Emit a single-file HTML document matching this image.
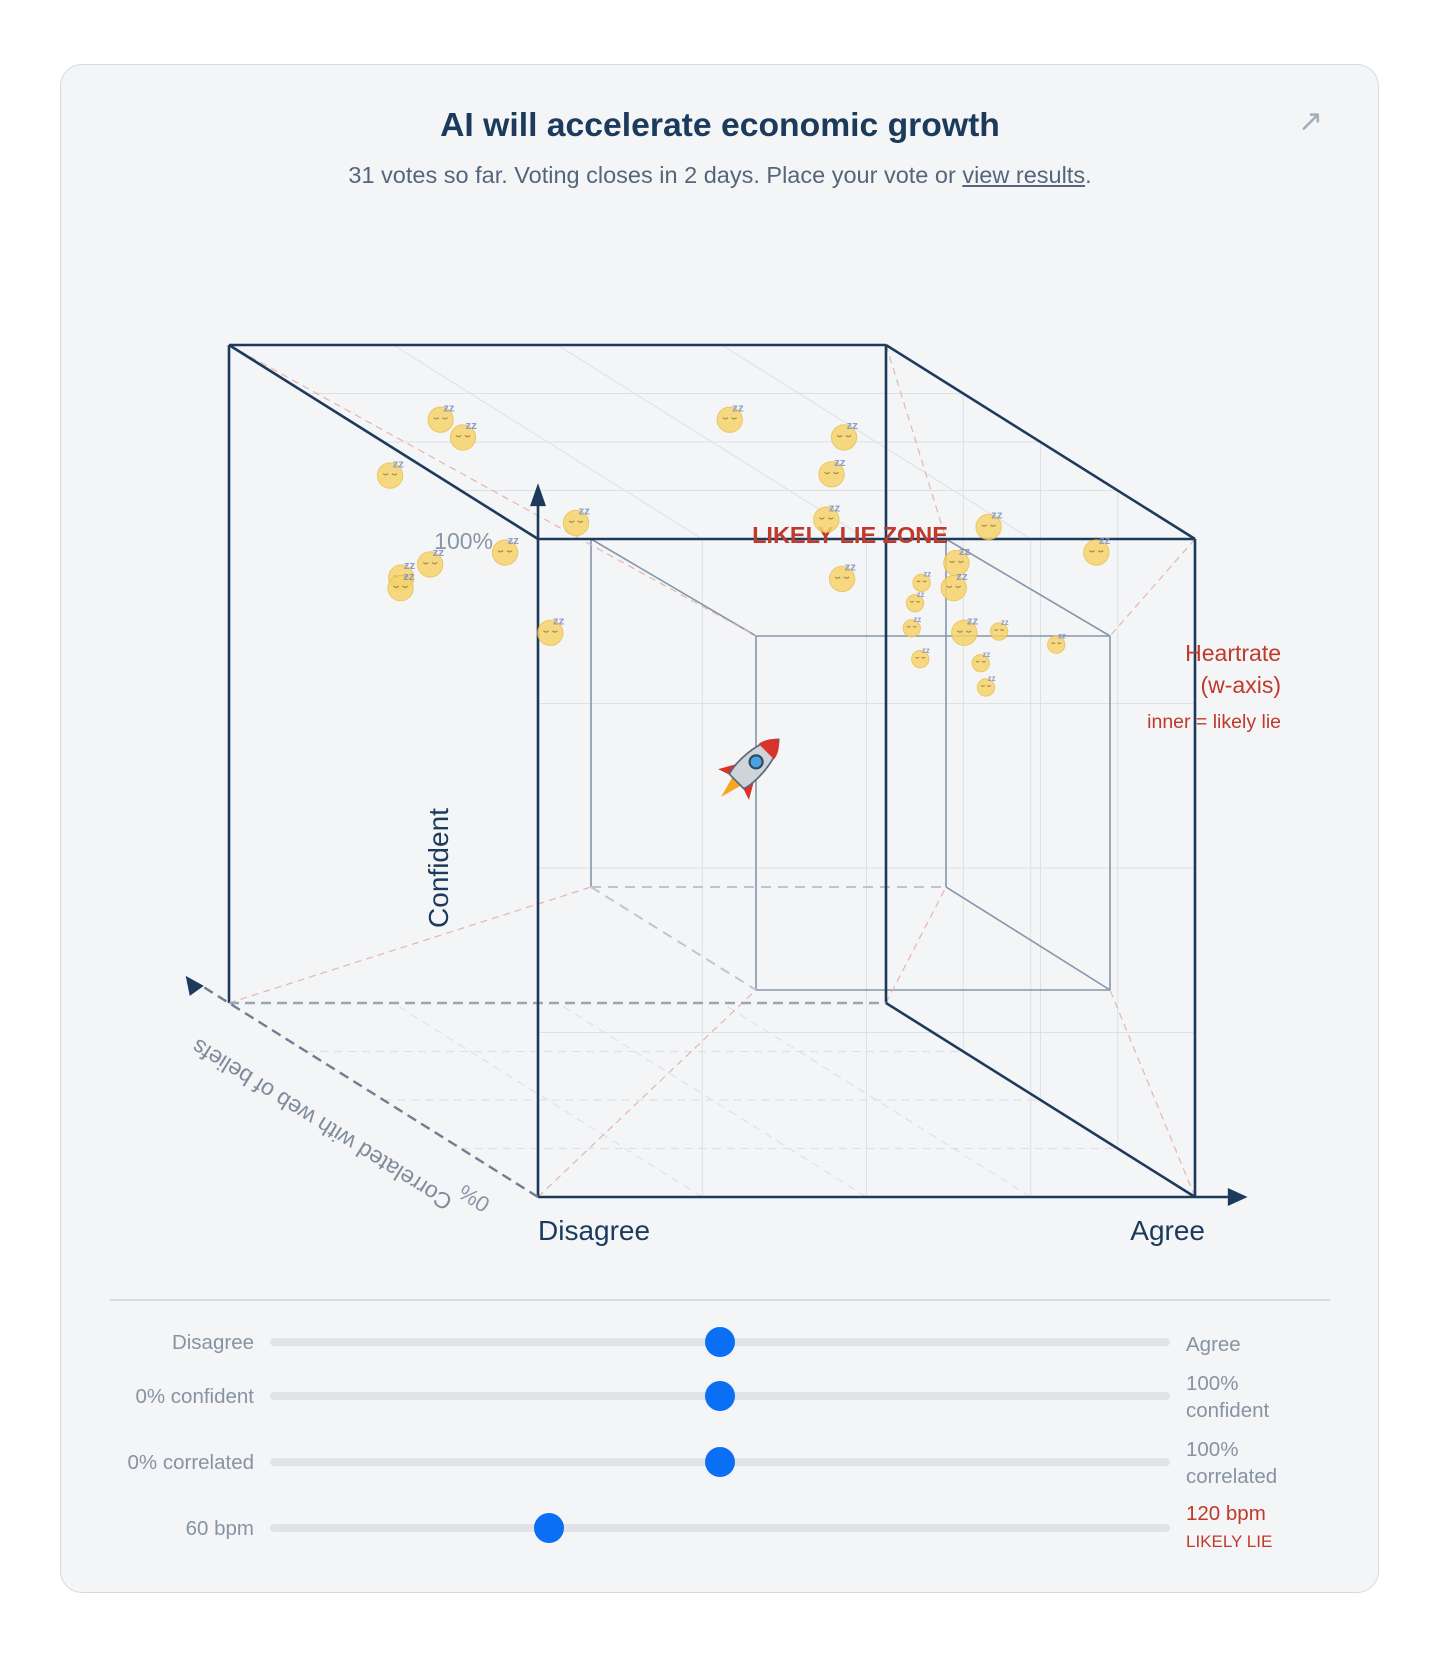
<!DOCTYPE html>
<html><head><meta charset="utf-8"><style>
body{margin:0;width:1440px;height:1657px;background:#fff;font-family:"Liberation Sans",sans-serif;position:relative;overflow:hidden}
.card{position:absolute;left:60px;top:64px;width:1317px;height:1527px;background:#f3f5f7;border:1.5px solid #d5dae1;border-radius:22px}
.t{position:absolute;white-space:nowrap}
</style></head><body>
<div class="card"></div>
<div class="t" style="left:0;width:1440px;text-align:center;top:106px;font-size:33.7px;font-weight:bold;color:#1b3a5c">AI will accelerate economic growth</div>
<div class="t" style="left:0;width:1440px;text-align:center;top:162px;font-size:23.5px;color:#56667a">31 votes so far. Voting closes in 2 days. Place your vote or <span style="text-decoration:underline">view results</span>.</div>
<div class="t" style="left:1298px;top:104px;font-size:30px;color:#a3adba">↗</div>

<svg id="chart" width="1440" height="1657" style="position:absolute;left:0;top:0" xmlns="http://www.w3.org/2000/svg"></svg>

<div class="t" style="left:538px;top:1215px;font-size:28px;color:#1b3a5c">Disagree</div>
<div class="t" style="right:235px;top:1215px;font-size:28px;color:#1b3a5c">Agree</div>
<div class="t" style="right:159px;top:637px;font-size:23px;color:#c0392b;text-align:right;line-height:32px">Heartrate<br>(w-axis)</div>
<div class="t" style="right:159px;top:711px;font-size:19.5px;color:#c0392b">inner = likely lie</div>

<div style="position:absolute;left:110px;top:1299px;width:1220px;height:2px;background:#d8dce2"></div>
<div id="sliders"></div>

<script>
// data
const agree=[0.087,0.121,0.010,0.293,0.527,0.701,0.682,0.674,0.921,1.085,0.872,0.868,0.819,0.809,0.698,0.185,0.071,0.027,0.026,0.254,0.804,0.884,0.937,1.024,0.817,0.909,0.917];
const confidence=[1.037,1.010,0.952,0.880,1.037,1.010,0.954,0.885,0.874,0.835,0.819,0.781,0.789,0.758,0.795,0.835,0.817,0.797,0.781,0.713,0.720,0.713,0.715,0.695,0.673,0.667,0.630];
const correlation=[0.5,0.5,0.5,0.5,0.5,0.5,0.5,0.5,0.5,0.5,0.5,0.5,0.5,0.5,0.5,0.5,0.5,0.5,0.5,0.5,0.5,0.5,0.5,0.5,0.5,0.5,0.5];
const bpm=[70,70,70,70,70,70,70,70,70,70,70,70,100,100,70,70,70,70,70,70,100,70,100,100,100,100,100];
const myVote=[0.5,0.5,0.5,0.31];
const gridTicks=[0.25,0.5,0.75];

const NS="http://www.w3.org/2000/svg";
const svg=document.getElementById('chart');
const X0=538,Y0=1197,W=657,H=658,DX=-309,DY=-194;
function px(x,z){return X0+W*x+DX*z;}
function py(y,z){return Y0-H*y+DY*z;}
function el(tag,attrs,parent){const e=document.createElementNS(NS,tag);for(const k in attrs)e.setAttribute(k,attrs[k]);(parent||svg).appendChild(e);return e;}
function line(x1,y1,x2,y2,st,name){const e=el('line',{x1,y1,x2,y2,style:st});

return e;}
const faint="stroke:#dde1e6;stroke-width:1";
gridTicks.forEach(t=>{
 line(px(t,0),py(0,0),px(t,0),py(1,0),faint,'grid-vertical');
 line(px(0,0),py(t,0),px(1,0),py(t,0),faint,'grid-horizontal');
 line(px(t,0),py(1,0),px(t,1),py(1,1),faint,'grid-top');
 line(px(0,t),py(1,t),px(1,t),py(1,t),faint,'grid-top');
 line(px(t,0),py(0,0),px(t,1),py(0,1),"stroke:#dde1e6;stroke-width:1.2;stroke-dasharray:8 6",'grid-floor');
 line(px(0,t),py(0,t),px(1,t),py(0,t),"stroke:#dde1e6;stroke-width:1.2;stroke-dasharray:8 6",'grid-floor');
 line(px(1,t),py(0,t),px(1,t),py(1,t),faint,'grid-side');
});
const innerSt="stroke:#8496ab;stroke-width:1.6";
const iFront=[[591,539],[946,539],[946,887],[591,887]];
const iBack=[[756,636],[1110,636],[1110,990],[756,990]];
line(iFront[0][0],iFront[0][1],iFront[3][0],iFront[3][1],innerSt,'inner-cube-edge');
line(iFront[1][0],iFront[1][1],iFront[2][0],iFront[2][1],innerSt,'inner-cube-edge');
line(iFront[3][0],iFront[3][1],iFront[2][0],iFront[2][1],"stroke:#bcc6d2;stroke-width:2;stroke-dasharray:10 7",'inner-cube-edge');
for(let i=0;i<4;i++){const j=(i+1)%4;line(iBack[i][0],iBack[i][1],iBack[j][0],iBack[j][1],innerSt,'inner-cube-edge');}
[0,1,2].forEach(i=>line(iFront[i][0],iFront[i][1],iBack[i][0],iBack[i][1],innerSt,'inner-cube-edge'));
line(iFront[3][0],iFront[3][1],iBack[3][0],iBack[3][1],"stroke:#bcc6d2;stroke-width:2;stroke-dasharray:10 7",'inner-cube-edge');
const red="stroke:#e8b4ae;stroke-width:1.2;stroke-dasharray:7 5";
line(px(0,1),py(1,1),iBack[0][0],iBack[0][1],red,'lie-zone-connector');
line(px(1,1),py(1,1),iFront[1][0],iFront[1][1],red,'lie-zone-connector');
line(px(1,0),py(1,0),iBack[1][0],iBack[1][1],red,'lie-zone-connector');
line(px(0,1),py(0,1),iFront[3][0],iFront[3][1],red,'lie-zone-connector');
line(px(0,0),py(0,0),iBack[3][0],iBack[3][1],red,'lie-zone-connector');
line(px(1,1),py(0,1),iFront[2][0],iFront[2][1],red,'lie-zone-connector');
line(px(1,0),py(0,0),iBack[2][0],iBack[2][1],red,'lie-zone-connector');
const dark="stroke:#1d3a5c;stroke-width:2.6;fill:none";
line(px(0,1),py(1,1),px(1,1),py(1,1),dark,'cube-edge');
line(px(0,1),py(1,1),px(0,1),py(0,1),dark,'cube-edge');
line(px(1,1),py(1,1),px(1,1),py(0,1),dark,'cube-edge');
line(px(0,1),py(0,1),px(1,1),py(0,1),"stroke:#9aa6b4;stroke-width:2.6;stroke-dasharray:10 6",'cube-edge');
line(px(0,1),py(1,1),px(0,0),py(1,0),dark,'cube-edge');
line(px(1,1),py(1,1),px(1,0),py(1,0),dark,'cube-edge');
line(px(1,1),py(0,1),px(1,0),py(0,0),dark,'cube-edge');
line(px(0,0),py(1,0),px(1,0),py(1,0),dark,'cube-edge');
line(px(0,0),py(0,0),px(1,0),py(0,0),dark,'cube-edge');
line(px(0,0),py(0,0),px(0,0),py(1,0),dark,'cube-edge');
line(px(1,0),py(0,0),px(1,0),py(1,0),dark,'cube-edge');
line(px(1,0),py(0,0),px(1.07,0),py(0,0),dark,'x-axis-line');
let a=el('polygon',{points:`${px(1.08,0)},${py(0,0)} ${px(1.05,0)},${py(0,0)-9} ${px(1.05,0)},${py(0,0)+9}`,fill:'#1d3a5c'});

line(px(0,0),py(1,0),px(0,0),py(1.06,0),dark,'y-axis-line');
a=el('polygon',{points:`${px(0,0)},${py(1.085,0)} ${px(0,0)-8},${py(1.05,0)} ${px(0,0)+8},${py(1.05,0)}`,fill:'#1d3a5c'});

line(px(0,0),py(0,0),px(0,1.08),py(0,1.08),"stroke:#6f7f92;stroke-width:2.4;stroke-dasharray:10 6",'z-axis-line');
const zx=px(0,1.14),zy=py(0,1.14);
a=el('polygon',{points:`${zx},${zy} ${zx+4},${zy+20} ${zx+18},${zy+10}`,fill:'#1d3a5c'});

function txt(s,x,y,st,name,tr){const e=el('text',{x,y,style:st});if(tr)e.setAttribute('transform',tr);e.textContent=s;

return e;}
txt('100%',493,549,"font-size:23px;fill:#8a96a6;text-anchor:end;font-family:Liberation Sans",'y-axis-max-tick');
txt('LIKELY LIE ZONE',850,543,"font-size:23.5px;fill:#c0392b;font-weight:bold;text-anchor:middle;font-family:Liberation Sans",'lie-zone-label');
txt('Confident',0,0,"font-size:28px;fill:#1b3a5c;text-anchor:middle;font-family:Liberation Sans",'y-axis-title','translate(448,868) rotate(-90)');
txt('Correlated with web of beliefs',0,0,"font-size:23px;fill:#7f8b9b;text-anchor:middle;font-family:Liberation Sans",'z-axis-title','translate(326,1118) rotate(212)');
txt('0%',0,0,"font-size:22px;fill:#8a96a6;text-anchor:middle;font-family:Liberation Sans",'z-axis-min-tick','translate(478,1192) rotate(212)');
for(let i=0;i<agree.length;i++){
 const cx=px(agree[i],correlation[i]),cy=py(confidence[i],correlation[i]);
 const r=14-(bpm[i]-60)/60*8;
 const g=el('g',{opacity:0.85});
 
 
 el('circle',{cx,cy:cy+2,r,fill:'#f6d36b',stroke:'#eabf4f','stroke-width':1},g);
 el('path',{d:`M${cx-r*0.55},${cy} q${r*0.2},${r*0.2} ${r*0.4},0 M${cx+r*0.15},${cy} q${r*0.2},${r*0.2} ${r*0.4},0`,stroke:'#a07a30','stroke-width':1.2,fill:'none'},g);
 const z=el('text',{x:cx+r*0.2,y:cy-r*0.5,style:`font-size:${r*0.9}px;fill:#7d8fc4;font-family:Liberation Sans;font-weight:bold`},g);z.textContent='zz';
}
{const cx=px(myVote[0],myVote[2])+40,cy=py(myVote[1],myVote[2])-5;
 const g=el('g',{transform:`translate(${cx},${cy}) rotate(45) scale(1.45)`});
 
 
 el('path',{d:'M-5,12 L0,30 L5,12Z',fill:'#f5a623'},g);
 el('path',{d:'M-7,4 L-15,18 L-6,15Z M7,4 L15,18 L6,15Z',fill:'#d9342b'},g);
 el('path',{d:'M0,-26 C10,-16 10,8 7,15 L-7,15 C-10,8 -10,-16 0,-26Z',fill:'#cfd4db',stroke:'#5c6878','stroke-width':1.2},g);
 el('path',{d:'M0,-26 C5,-22 7,-18 7.5,-14 L-7.5,-14 C-7,-18 -5,-22 0,-26Z',fill:'#d9342b'},g);
 el('circle',{cx:0,cy:-4,r:4.5,fill:'#4aa3e0',stroke:'#34495e','stroke-width':1.5},g);
}
const sl=document.getElementById('sliders');
const rows=[['Disagree','Agree','',1342,myVote[0]],['0% confident','100%','confident',1396,myVote[1]],['0% correlated','100%','correlated',1462,myVote[2]],['60 bpm','120 bpm','LIKELY LIE',1528,myVote[3]]];
rows.forEach((r,i)=>{
 const [l,rt,r2,y,v]=r;
 const L=document.createElement('div');L.className='t';L.style.cssText=`right:${1440-254}px;top:${y-11}px;font-size:20.5px;color:#8893a2`;L.textContent=l;
 
 sl.appendChild(L);
 const T=document.createElement('div');T.style.cssText=`position:absolute;left:270px;top:${y-4}px;width:900px;height:8px;border-radius:4px;background:#e1e3e6`;
 
 sl.appendChild(T);
 const K=document.createElement('div');K.style.cssText=`position:absolute;left:${270+900*v-15}px;top:${y-15}px;width:30px;height:30px;border-radius:50%;background:#0a6ff5`;
 
 sl.appendChild(K);
 const R=document.createElement('div');R.className='t';
 const red=i===3;
 let top=y-11;
 if(i===1||i===2)top=y-26;
 if(i===3)top=y-28;
 R.style.cssText=`left:1186px;top:${top}px;font-size:20.5px;line-height:27px;color:${red?'#c0392b':'#8893a2'}`;
 R.innerHTML=rt+(r2?'<br>'+(red?'<span style="font-size:17px">'+r2+'</span>':r2):'');
 
 sl.appendChild(R);
});
</script>
</body></html>
